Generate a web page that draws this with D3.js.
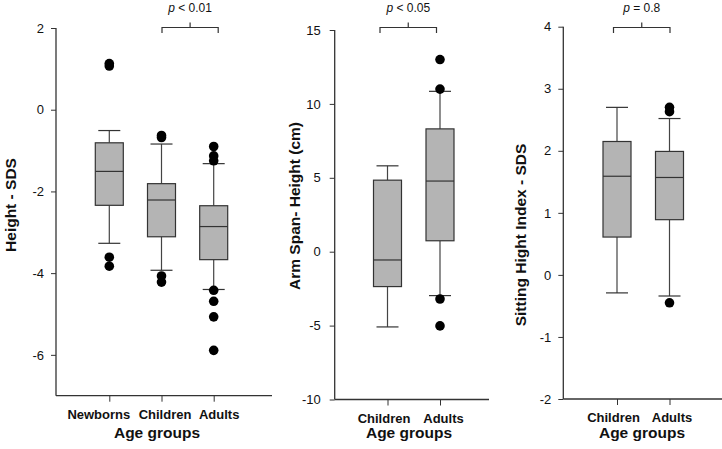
<!DOCTYPE html>
<html>
<head>
<meta charset="utf-8">
<script src="https://cdn.jsdelivr.net/npm/d3@7"></script>
<style>
  html, body { margin: 0; padding: 0; background: #fff; }
  svg { display: block; font-family: "Liberation Sans", Arial, sans-serif; }
</style>
</head>
<body>
<svg id="chart" width="722" height="449"></svg>
<script>
// ---------- DATA ----------
// boxes: [lower whisker, Q1, median, Q3, upper whisker]
const heightCategories = ["Newborns", "Children", "Adults"];
const heightBoxes = [
  [-3.27, -2.34, -1.51, -0.81, -0.51],
  [-3.93, -3.11, -2.21, -1.81, -0.84],
  [-4.40, -3.67, -2.86, -2.35, -1.32]
];
const heightOutliers = [
  [1.13, 1.07, -3.61, -3.83],
  [-0.63, -0.68, -4.07, -4.22],
  [-0.90, -1.13, -1.25, -4.42, -4.69, -5.07, -5.89]
];
const heightTicks = [-6, -4, -2, 0, 2];
const heightDomain = [-7, 2];

const armCategories = ["Children", "Adults"];
const armBoxes = [
  [-5.09, -2.36, -0.56, 4.84, 5.81],
  [-2.97, 0.74, 4.78, 8.31, 10.85]
];
const armOutliers = [
  [],
  [13.0, 11.0, -3.2, -5.02]
];
const armTicks = [-10, -5, 0, 5, 10, 15];
const armDomain = [-10, 15];

const sitCategories = ["Children", "Adults"];
const sitBoxes = [
  [-0.29, 0.61, 1.59, 2.15, 2.70],
  [-0.34, 0.89, 1.57, 1.99, 2.52]
];
const sitOutliers = [
  [],
  [2.70, 2.63, -0.45]
];
const sitTicks = [-2, -1, 0, 1, 2, 3, 4];
const sitDomain = [-2, 4];

const yTitles = ["Height - SDS", "Arm Span- Height (cm)", "Sitting Hight Index - SDS"];
const xTitle = "Age groups";
const pOps = ["< 0.01", "< 0.05", "= 0.8"];
const bracketPairs = [["Children", "Adults"], ["Children", "Adults"], ["Children", "Adults"]];

// ---------- LAYOUT ----------
const panels = [
  { cats: heightCategories, boxes: heightBoxes, outs: heightOutliers, ticks: heightTicks, domain: heightDomain,
    axisX: 56, axisEnd: 272, top: 28, bottom: 395.7, catRange: [109.3, 213.7], titleX: 15.5, titleY: 205, pad: 7,
    bshift: [0.5, 4.5], labelDx: [-11, 3, 5], xTitleX: 157 },
  { cats: armCategories, boxes: armBoxes, outs: armOutliers, ticks: armTicks, domain: armDomain,
    axisX: 334.7, axisEnd: 489, top: 30, bottom: 399.5, catRange: [387.5, 440], titleX: 300, titleY: 206, pad: 9,
    bshift: [-7.5, -3.5], labelDx: [-4, 3], xTitleX: 409 },
  { cats: sitCategories, boxes: sitBoxes, outs: sitOutliers, ticks: sitTicks, domain: sitDomain,
    axisX: 563.3, axisEnd: 722, top: 26.7, bottom: 399, catRange: [617, 669.5], titleX: 526, titleY: 235, pad: 7,
    bshift: [-3.5, 0.5], labelDx: [-4, 2], xTitleX: 642 }
];

const svg = d3.select("#chart");
const boxW = 28, capW = 22, r = 4.8;
const axisColor = "#333";

panels.forEach((p, i) => {
  const g = svg.append("g");
  const y = d3.scaleLinear().domain(p.domain).range([p.bottom, p.top]);
  const x = d3.scalePoint().domain(p.cats).range(p.catRange);

  // y axis
  const yAxis = d3.axisLeft(y).tickValues(p.ticks).tickSize(5).tickPadding(p.pad).tickFormat(d => String(d));
  const ya = g.append("g").attr("transform", `translate(${p.axisX},0)`).call(yAxis);
  ya.select(".domain").attr("d", `M0,${p.top}V${p.bottom}`).attr("stroke", axisColor).attr("stroke-width", 1.3);
  ya.selectAll(".tick line").attr("stroke", axisColor);
  ya.selectAll(".tick text").attr("font-size", 13).attr("fill", "#111")
    .attr("font-family", "'Liberation Sans', Arial, sans-serif");

  // x axis
  const xAxis = d3.axisBottom(x).tickSize(6).tickPadding(8);
  const xa = g.append("g").attr("transform", `translate(0,${p.bottom})`).call(xAxis);
  xa.select(".domain").attr("d", `M${p.axisX},0H${p.axisEnd}`).attr("stroke", axisColor).attr("stroke-width", 1.3);
  xa.selectAll(".tick line").attr("stroke", axisColor);
  xa.selectAll(".tick text").attr("font-size", 13).attr("font-weight", "bold").attr("fill", "#111")
    .attr("font-family", "'Liberation Sans', Arial, sans-serif")
    .attr("dx", (d, k) => p.labelDx[k]);

  // x title
  g.append("text").attr("x", p.xTitleX).attr("y", 438)
    .attr("text-anchor", "middle").attr("font-size", 15.5).attr("font-weight", "bold").attr("fill", "#111")
    .text(xTitle);

  // y title
  g.append("text").attr("transform", `translate(${p.titleX},${p.titleY}) rotate(-90)`)
    .attr("text-anchor", "middle").attr("font-size", 15.5).attr("font-weight", "bold").attr("fill", "#111")
    .text(yTitles[i]);

  // boxes
  p.cats.forEach((c, j) => {
    const cx = x(c);
    const [lo, q1, med, q3, hi] = p.boxes[j];
    const wg = g.append("g");
    // whiskers
    wg.append("line").attr("x1", cx).attr("x2", cx).attr("y1", y(q3)).attr("y2", y(hi)).attr("stroke", "#444").attr("stroke-width", 1.2);
    wg.append("line").attr("x1", cx).attr("x2", cx).attr("y1", y(q1)).attr("y2", y(lo)).attr("stroke", "#444").attr("stroke-width", 1.2);
    wg.append("line").attr("x1", cx - capW / 2).attr("x2", cx + capW / 2).attr("y1", y(hi)).attr("y2", y(hi)).attr("stroke", "#333").attr("stroke-width", 1.2);
    wg.append("line").attr("x1", cx - capW / 2).attr("x2", cx + capW / 2).attr("y1", y(lo)).attr("y2", y(lo)).attr("stroke", "#333").attr("stroke-width", 1.2);
    // box
    wg.append("rect").attr("x", cx - boxW / 2).attr("y", y(q3)).attr("width", boxW).attr("height", y(q1) - y(q3))
      .attr("fill", "#b4b4b4").attr("stroke", "#333").attr("stroke-width", 1.2);
    wg.append("line").attr("x1", cx - boxW / 2).attr("x2", cx + boxW / 2).attr("y1", y(med)).attr("y2", y(med))
      .attr("stroke", "#333").attr("stroke-width", 1.2);
    // outliers
    wg.selectAll("circle").data(p.outs[j]).join("circle")
      .attr("cx", cx).attr("cy", d => y(d)).attr("r", r).attr("fill", "#000");
  });

  // significance bracket
  const [a, b] = bracketPairs[i];
  const bx1 = x(a) + p.bshift[0], bx2 = x(b) + p.bshift[1];
  const by = 27.5, mid = (bx1 + bx2) / 2;
  g.append("path").attr("d", `M${bx1},${by + 5.5}V${by}H${bx2}V${by + 5.5}M${mid},${by}V${by - 5}`)
    .attr("fill", "none").attr("stroke", "#333").attr("stroke-width", 1.2);
  const t = g.append("text").attr("x", mid).attr("y", 11.5).attr("text-anchor", "middle")
    .attr("font-size", 12).attr("fill", "#111");
  t.append("tspan").attr("font-style", "italic").text("p");
  t.append("tspan").text(" " + pOps[i]);
});
</script>
</body>
</html>
